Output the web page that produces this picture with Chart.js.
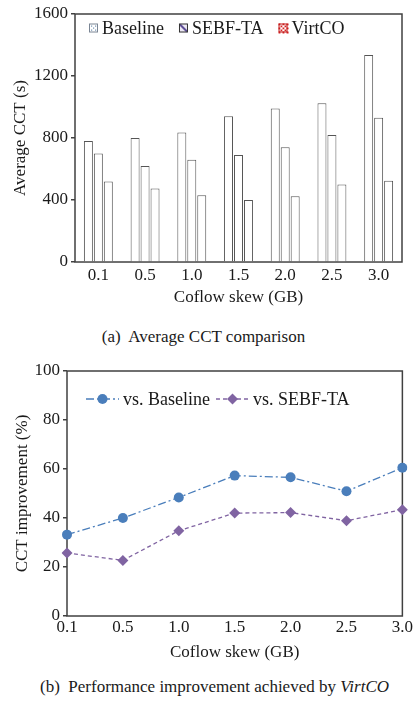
<!DOCTYPE html>
<html>
<head>
<meta charset="utf-8">
<script src="https://cdn.jsdelivr.net/npm/chart.js@4.4.1/dist/chart.umd.min.js"></script>
<style>
  html, body { margin: 0; padding: 0; background: #fff; }
  body {
    width: 414px; height: 704px; position: relative; overflow: hidden;
    font-family: "Liberation Serif", "Times New Roman", serif; color: #1a1a1a;
  }
  .box { position: absolute; left: 0; width: 414px; }
  #boxA { top: 0; height: 318px; }
  #boxB { top: 350px; height: 320px; }
  .cap { position: absolute; font-size: 17px; line-height: 20px; white-space: pre; text-align: center; }
  #capA { top: 327px; left: 0; width: 407px; }
  #capB { top: 677px; left: 0; width: 429px; }
</style>
</head>
<body>
<div class="box" id="boxA"><canvas id="cctChart" width="414" height="318"></canvas></div>
<div class="cap" id="capA">(a)  Average CCT comparison</div>
<div class="box" id="boxB"><canvas id="impChart" width="414" height="320"></canvas></div>
<div class="cap" id="capB">(b)  Performance improvement achieved by <i>VirtCO</i></div>

<script>
/* ── Data ───────────────────────────────────────────────────── */
const skews       = ['0.1', '0.5', '1.0', '1.5', '2.0', '2.5', '3.0'];
const cctBaseline = [780, 800, 835, 940, 990, 1025, 1335];
const cctSebf     = [700, 620, 660, 690, 740, 820, 930];
const cctVirtco   = [520, 475, 430, 400, 425, 500, 525];
const cctTicks    = [0, 400, 800, 1200, 1600];

const impBaseline = [33.2, 40.0, 48.4, 57.3, 56.6, 50.9, 60.5];
const impSebf     = [25.7, 22.7, 34.8, 42.0, 42.2, 38.9, 43.4];
const impTicks    = [0, 20, 40, 60, 80, 100];

/* ── Shared style ───────────────────────────────────────────── */
const AXIS = '#404040';
const TEXT = '#1a1a1a';
const BLUE = '#4a7ebb';
const PURPLE = '#8064a2';

Chart.defaults.font.family = "'Liberation Serif', 'Times New Roman', serif";
Chart.defaults.font.size = 17;
Chart.defaults.color = TEXT;

// box round the plot area
const framePlugin = {
  id: 'frame',
  beforeDatasetsDraw(chart) {
    const a = chart.chartArea, ctx = chart.ctx;
    ctx.save();
    ctx.strokeStyle = AXIS;
    ctx.lineWidth = 1.5;
    ctx.strokeRect(a.left, a.top, a.right - a.left, a.bottom - a.top);
    ctx.restore();
  }
};

/* ── Legend swatches for the bar chart ──────────────────────── */
function drawSwatch(ctx, i, x, y, s) {
  ctx.save();
  if (i === 0) {
    ctx.fillStyle = '#fff';
    ctx.fillRect(x, y, s, s);
    ctx.fillStyle = '#6f8fb0';
    [[2, 2], [s - 3, 2], [2, s - 3], [s - 3, s - 3], [s / 2 - 0.5, s / 2 - 0.5]].forEach(p => ctx.fillRect(x + p[0], y + p[1], 1.2, 1.2));
    ctx.strokeStyle = '#7a8594';
  } else if (i === 1) {
    ctx.fillStyle = '#ece8f4';
    ctx.fillRect(x, y, s, s);
    ctx.strokeStyle = '#5e4f96';
    ctx.lineWidth = 2;
    ctx.beginPath();
    ctx.moveTo(x + 1, y + 1);
    ctx.lineTo(x + s - 1, y + s - 1);
    ctx.stroke();
    ctx.strokeStyle = '#333';
  } else {
    for (let r = 0; r < s; r += 2) {
      for (let c = 0; c < s; c += 2) {
        ctx.fillStyle = ((r + c) / 2) % 2 ? '#fff' : '#d42222';
        ctx.fillRect(x + c, y + r, 2, 2);
      }
    }
    ctx.strokeStyle = '#c01818';
  }
  ctx.lineWidth = 1;
  ctx.strokeRect(x + 0.5, y + 0.5, s - 1, s - 1);
  ctx.restore();
}

const barLegend = {
  id: 'barLegend',
  afterDraw(chart) {
    const ctx = chart.ctx;
    let x = 89;
    const y = 28, s = 9;
    ctx.save();
    ctx.font = "18px 'Liberation Serif', serif";
    ctx.fillStyle = TEXT;
    ctx.textBaseline = 'middle';
    chart.data.datasets.forEach((ds, i) => {
      drawSwatch(ctx, i, x, y - s / 2, s);
      x += s + 4;
      ctx.fillText(ds.label, x, y + 1);
      x += ctx.measureText(ds.label).width + 15;
    });
    ctx.restore();
  }
};

/* ── Legend for the line chart ──────────────────────────────── */
function drawMarker(ctx, style, x, y, r, color) {
  ctx.fillStyle = color;
  ctx.beginPath();
  if (style === 'circle') {
    ctx.arc(x, y, r, 0, Math.PI * 2);
  } else {
    ctx.moveTo(x, y - r); ctx.lineTo(x + r, y); ctx.lineTo(x, y + r); ctx.lineTo(x - r, y);
    ctx.closePath();
  }
  ctx.fill();
}

const lineLegend = {
  id: 'lineLegend',
  afterDraw(chart) {
    const ctx = chart.ctx;
    let x = 86;
    const y = 49, len = 33;
    ctx.save();
    ctx.font = "18px 'Liberation Serif', serif";
    ctx.textBaseline = 'middle';
    chart.data.datasets.forEach(ds => {
      ctx.strokeStyle = ds.borderColor;
      ctx.lineWidth = ds.borderWidth;
      ctx.setLineDash(ds.borderDash);
      ctx.beginPath();
      ctx.moveTo(x, y); ctx.lineTo(x + len, y);
      ctx.stroke();
      ctx.setLineDash([]);
      drawMarker(ctx, ds.pointStyle, x + len / 2, y, ds.pointRadius, ds.pointBackgroundColor);
      x += len + 4;
      ctx.fillStyle = TEXT;
      ctx.fillText(ds.label, x, y + 1);
      x += ctx.measureText(ds.label).width + 6;
    });
    ctx.restore();
  }
};

/* ── (a) Average CCT bars ───────────────────────────────────── */
const barStyle = { backgroundColor: '#fff', borderColor: '#555', borderWidth: 1 };

new Chart(document.getElementById('cctChart'), {
  type: 'bar',
  data: {
    labels: skews,
    datasets: [
      { label: 'Baseline', data: cctBaseline, ...barStyle },
      { label: 'SEBF-TA',  data: cctSebf,     ...barStyle },
      { label: 'VirtCO',   data: cctVirtco,   ...barStyle }
    ]
  },
  options: {
    responsive: false,
    devicePixelRatio: 1,
    animation: false,
    categoryPercentage: 0.64,
    barPercentage: 0.9,
    layout: { padding: { top: 14, right: 12, left: 0, bottom: 0 } },
    plugins: { legend: { display: false }, tooltip: { enabled: false } },
    scales: {
      x: {
        grid: { display: false, tickLength: 0 },
        border: { display: false },
        ticks: { padding: 3, maxRotation: 0, autoSkip: false, color: TEXT },
        title: { display: true, text: 'Coflow skew (GB)', color: TEXT, padding: { top: 0, bottom: 10 } },
        afterFit: s => { s.height = 56; }
      },
      y: {
        min: 0, max: 1600,
        grid: { drawOnChartArea: false, drawTicks: true, tickLength: 4, color: AXIS, lineWidth: 1.5 },
        border: { display: false },
        ticks: { padding: 3, color: TEXT, callback: v => String(v) },
        afterBuildTicks: axis => { axis.ticks = cctTicks.map(v => ({ value: v })); },
        title: { display: true, text: 'Average CCT (s)', color: TEXT, padding: { top: 10, bottom: 0 } },
        afterFit: s => { s.width = 75; }
      }
    }
  },
  plugins: [framePlugin, barLegend]
});

/* ── (b) Improvement lines ──────────────────────────────────── */
new Chart(document.getElementById('impChart'), {
  type: 'line',
  data: {
    labels: skews,
    datasets: [
      {
        label: 'vs. Baseline', data: impBaseline,
        borderColor: BLUE, borderWidth: 1.3, borderDash: [8, 3, 2, 3],
        pointStyle: 'circle', pointRadius: 5, pointBackgroundColor: BLUE, pointBorderColor: BLUE, pointBorderWidth: 0
      },
      {
        label: 'vs. SEBF-TA', data: impSebf,
        borderColor: PURPLE, borderWidth: 1.3, borderDash: [4, 3],
        pointStyle: 'rectRot', pointRadius: 5.5, pointBackgroundColor: PURPLE, pointBorderColor: PURPLE, pointBorderWidth: 0
      }
    ]
  },
  options: {
    responsive: false,
    devicePixelRatio: 1,
    animation: false,
    layout: { padding: { top: 21, right: 11, left: 0, bottom: 0 } },
    plugins: { legend: { display: false }, tooltip: { enabled: false } },
    elements: { line: { tension: 0 } },
    scales: {
      x: {
        offset: false,
        grid: { display: false, tickLength: 0 },
        border: { display: false },
        ticks: { padding: 1, maxRotation: 0, autoSkip: false, color: TEXT },
        title: { display: true, text: 'Coflow skew (GB)', color: TEXT, padding: { top: 0, bottom: 7 } },
        afterFit: s => { s.height = 54; }
      },
      y: {
        min: 0, max: 100,
        grid: { drawOnChartArea: false, drawTicks: true, tickLength: 4, color: AXIS, lineWidth: 1.5 },
        border: { display: false },
        ticks: { padding: 3, color: TEXT, callback: v => String(v) },
        afterBuildTicks: axis => { axis.ticks = impTicks.map(v => ({ value: v })); },
        title: { display: true, text: 'CCT improvement (%)', color: TEXT, padding: { top: 12, bottom: 0 } },
        afterFit: s => { s.width = 67; }
      }
    }
  },
  plugins: [framePlugin, lineLegend]
});
</script>
</body>
</html>
